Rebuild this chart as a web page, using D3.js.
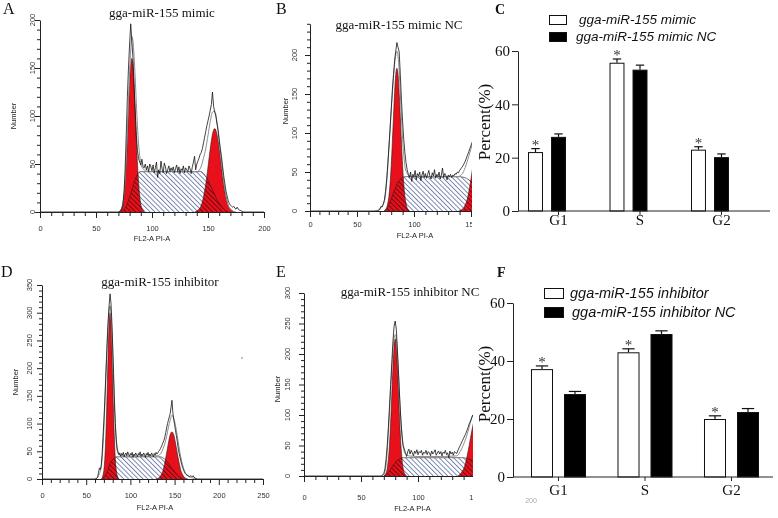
<!DOCTYPE html>
<html><head><meta charset="utf-8">
<script src="https://cdn.jsdelivr.net/npm/d3@7"></script>
<style>body{margin:0;background:#fff} svg{display:block}</style>
</head><body>
<svg id="c" width="778" height="518"></svg>
<script>
// ---------- Histogram data (x = FL2-A PI-A channel, y = Number) ----------
const histA_data = [[0,0],[70,0],[72,1],[73,3],[74,8],[75,20],[76,45],[77,80],[78,120],[79,150],[80,175],[81,196],[82,178],[83,160],[84,130],[85,105],[86,80],[87,64],[88,56],[89,52],[90,49],[91,55],[92,47],[93,46],[94,50],[95,44],[96,48],[97,42],[98,50],[99,47],[100,43],[101,49],[102,41],[103,46],[104,52],[105,36],[106,44],[107,40],[108,53],[109,45],[110,41],[111,51],[112,47],[113,40],[114,44],[115,48],[116,42],[117,46],[118,43],[119,47],[120,41],[121,45],[122,49],[123,42],[124,47],[125,40],[126,45],[127,43],[128,48],[129,41],[130,46],[131,44],[132,42],[133,48],[134,45],[135,40],[136,47],[137,52],[138,58],[139,44],[140,50],[141,53],[142,56],[143,60],[144,62],[145,66],[146,72],[147,78],[148,84],[149,90],[150,95],[151,100],[152,106],[153,112],[154,125],[155,110],[156,104],[157,100],[158,92],[159,85],[160,75],[161,66],[162,58],[163,48],[164,38],[165,30],[166,22],[167,17],[168,12],[169,9],[170,7],[171,6],[172,5],[173,6],[174,4],[175,3],[176,5],[177,3],[178,2],[180,1],[182,0],[200,0]];
const histA_model = [[70,0],[72,2],[74,9],[76,33],[78,84],[80,146],[81,169],[82,183],[83,178],[84,162],[85,140],[86,114],[87,90],[88,71],[89,59],[90,50],[92,45],[95,43],[100,42],[140,42],[143,45],[146,56],[148,66],[150,80],[152,94],[154,104],[156,105],[158,94],[160,75],[162,53],[164,32],[166,17],[168,7],[170,3],[172,1],[175,0]];
const histA_g1 = [[71,0],[72,2],[73,4],[74,8],[75,17],[76,31],[77,51],[78,77],[79,106],[80,133],[81,153],[82,160],[83,153],[84,133],[85,106],[86,77],[87,51],[88,31],[89,17],[90,8],[91,4],[92,2],[93,0]];
const histA_s = [[73,0],[75,2],[77,6],[79,12],[81,19],[83,27],[85,34],[87,39],[89,42],[144,42],[146,40],[148,37],[150,33],[152,28],[154,23],[156,18],[158,13],[160,9],[162,6],[164,3],[166,1],[168,0]];
const histA_g2 = [[138,0],[140,1],[142,3],[144,7],[146,16],[148,29],[150,47],[152,66],[154,81],[156,87],[158,81],[160,66],[162,47],[164,29],[166,16],[168,7],[170,3],[172,1],[174,0]];

const histB_data = [[0,0],[68,0],[70,2],[71,6],[72,5],[73,9],[74,14],[75,25],[76,40],[77,60],[78,82],[79,105],[80,130],[81,155],[82,175],[83,193],[84,205],[85,216],[86,210],[87,204],[88,175],[89,142],[90,115],[91,92],[92,75],[93,62],[94,53],[95,47],[96,43],[97,50],[98,38],[99,47],[100,44],[101,52],[102,40],[103,48],[104,45],[105,50],[106,39],[107,46],[108,51],[109,43],[110,48],[111,42],[112,47],[113,52],[114,44],[115,41],[116,49],[117,45],[118,53],[119,42],[120,47],[121,44],[122,50],[123,41],[124,46],[125,55],[126,43],[127,48],[128,45],[129,40],[130,46],[131,44],[132,47],[133,43],[134,46],[135,45],[136,48],[137,47],[138,50],[139,49],[140,52],[141,54],[142,56],[143,58],[144,61],[145,64],[146,68],[147,72],[148,76],[149,80],[150,84],[152,92]];
const histB_model = [[66,0],[70,3],[74,12],[76,36],[78,80],[80,128],[82,170],[83,188],[84,200],[85,205],[86,198],[87,180],[88,150],[89,120],[90,92],[91,72],[92,58],[94,48],[96,45],[100,44],[120,44],[138,44],[142,47],[145,56],[148,70],[150,80],[152,90]];
const histB_g1 = [[74,0],[75,2],[76,4],[77,10],[78,19],[79,35],[80,58],[81,88],[82,121],[83,152],[84,175],[85,183],[86,175],[87,152],[88,121],[89,88],[90,58],[91,35],[92,19],[93,10],[94,4],[95,2],[96,0]];
const histB_s = [[74,0],[76,3],[78,8],[80,15],[82,23],[84,31],[86,37],[88,41],[90,43],[92,44],[140,44],[144,43],[146,42],[148,40],[150,38],[152,35]];
const histB_g2 = [[139,0],[141,1],[143,3],[145,8],[147,17],[149,32],[151,51],[153,72],[155,89],[157,95],[159,89]];

const histD_data = [[0,0],[60,0],[62,1],[63,4],[64,12],[65,20],[66,17],[67,24],[68,45],[69,75],[70,105],[71,140],[72,180],[73,220],[74,258],[75,290],[76,315],[77,334],[78,318],[79,285],[80,240],[81,190],[82,140],[83,100],[84,72],[85,56],[86,49],[87,44],[88,47],[89,41],[90,46],[91,43],[92,48],[93,40],[94,45],[95,47],[96,42],[97,49],[98,44],[99,41],[100,46],[101,43],[102,48],[103,39],[104,45],[105,42],[106,47],[107,44],[108,40],[109,46],[110,43],[111,49],[112,41],[113,45],[114,42],[115,47],[116,44],[117,39],[118,46],[119,43],[120,48],[121,41],[122,45],[123,42],[124,47],[125,44],[126,40],[127,46],[128,43],[129,48],[130,45],[131,47],[132,50],[133,52],[134,55],[135,58],[136,62],[137,66],[138,70],[139,76],[140,84],[141,92],[142,100],[143,106],[144,112],[145,118],[146,130],[147,142],[148,120],[149,108],[150,98],[151,88],[152,78],[153,68],[154,56],[155,47],[156,40],[157,33],[158,26],[159,21],[160,17],[161,13],[162,10],[163,8],[164,7],[165,6],[166,5],[167,4],[168,6],[169,5],[170,4],[171,6],[172,3],[174,1],[176,0],[250,0]];
const histD_model = [[60,0],[63,3],[65,10],[67,22],[69,60],[71,130],[73,215],[75,285],[76,305],[77,312],[78,300],[79,270],[80,225],[81,175],[82,128],[83,92],[84,66],[85,52],[87,44],[90,42],[100,41],[120,41],[130,42],[134,45],[137,55],[140,70],[142,85],[144,100],[146,112],[147,115],[148,113],[150,104],[152,88],[154,68],[156,48],[158,32],[160,20],[162,12],[165,6],[170,2],[175,0]];
const histD_g1 = [[67,0],[68,2],[69,7],[70,16],[71,35],[72,68],[73,116],[74,176],[75,236],[76,283],[77,300],[78,283],[79,236],[80,176],[81,116],[82,68],[83,35],[84,16],[85,7],[86,2],[87,0]];
const histD_s = [[68,0],[70,3],[72,8],[74,15],[76,23],[78,30],[80,35],[82,38],[84,40],[86,40],[134,40],[136,39],[138,37],[140,34],[142,30],[144,26],[146,21],[148,17],[150,13],[152,9],[154,6],[156,3],[158,1],[160,0]];
const histD_g2 = [[129,0],[131,1],[133,3],[135,8],[137,16],[139,30],[141,47],[143,65],[145,80],[147,85],[149,80],[151,65],[153,47],[155,30],[157,16],[159,8],[161,3],[163,1],[165,0]];

const histE_data = [[0,0],[68,0],[70,4],[71,12],[72,28],[73,50],[74,80],[75,115],[76,150],[77,185],[78,220],[79,245],[80,254],[81,240],[82,205],[83,165],[84,125],[85,92],[86,66],[87,50],[88,44],[89,38],[90,32],[91,40],[92,44],[93,36],[94,42],[95,38],[96,33],[97,41],[98,37],[99,43],[100,35],[101,40],[102,38],[103,42],[104,34],[105,39],[106,37],[107,42],[108,35],[109,40],[110,38],[111,33],[112,41],[113,36],[114,39],[115,43],[116,34],[117,38],[118,41],[119,36],[120,40],[121,33],[122,39],[123,37],[124,42],[125,35],[126,38],[127,30],[128,41],[129,36],[130,39],[131,34],[132,40],[133,38],[134,37],[135,42],[136,46],[137,50],[138,54],[139,58],[140,62],[141,66],[142,70],[143,75],[144,80],[145,86],[146,90],[148,100]];
const histE_model = [[68,0],[70,3],[72,18],[74,70],[76,140],[77,175],[78,205],[79,225],[80,232],[81,225],[82,200],[83,165],[84,125],[85,90],[86,65],[87,48],[89,36],[92,33],[100,32],[120,32],[134,33],[137,40],[140,52],[142,62],[144,74],[146,88],[148,100]];
const histE_g1 = [[70,0],[71,2],[72,5],[73,12],[74,27],[75,51],[76,87],[77,132],[78,177],[79,212],[80,225],[81,212],[82,177],[83,132],[84,87],[85,51],[86,27],[87,12],[88,5],[89,2],[90,0]];
const histE_s = [[70,0],[72,2],[74,6],[76,11],[78,17],[80,22],[82,26],[84,28],[86,30],[140,30],[142,29],[144,28],[146,27],[148,25]];
const histE_g2 = [[135,0],[137,3],[139,8],[141,17],[143,32],[145,51],[147,72],[149,89],[151,95],[153,89]];

// ---------- Bar chart data ----------
const phases = ["G1", "S", "G2"];
const mimicVals = [22.1, 55.6, 23.0];
const mimicErr = [1.3, 1.4, 1.1];
const mimicNCVals = [27.8, 53.0, 20.2];
const mimicNCErr = [1.1, 1.7, 1.2];
const inhibVals = [37.2, 43.0, 20.0];
const inhibErr = [1.1, 1.2, 1.1];
const inhibNCVals = [28.6, 49.3, 22.4];
const inhibNCErr = [0.9, 1.1, 1.2];
const percentTicks = [0, 20, 40, 60];

const SANS = "'Liberation Sans', Arial, sans-serif";
const SERIF = "'Liberation Serif', 'Times New Roman', serif";

const svg = d3.select("#c");
const defs = svg.append("defs");
const pat = defs.append("pattern").attr("id", "hatch").attr("patternUnits", "userSpaceOnUse")
  .attr("width", 3.4).attr("height", 3.4).attr("patternTransform", "rotate(-45)");
pat.append("rect").attr("width", 3.4).attr("height", 3.4).attr("fill", "#fff");
pat.append("line").attr("x1", 0.5).attr("y1", 0).attr("x2", 0.5).attr("y2", 3.4)
  .attr("stroke", "#6472a2").attr("stroke-width", 0.85);

function txt(g, x, y, s, size, family, opts = {}) {
  const t = g.append("text").attr("x", x).attr("y", y).text(s)
    .attr("font-size", size).attr("font-family", family).attr("fill", opts.fill || "#111");
  if (opts.anchor) t.attr("text-anchor", opts.anchor);
  if (opts.weight) t.attr("font-weight", opts.weight);
  if (opts.style) t.attr("font-style", opts.style);
  if (opts.rotate) t.attr("transform", `rotate(-90 ${x} ${y})`);
  if (opts.dy) t.attr("dy", opts.dy);
  return t;
}

function histogram(o) {
  const g = svg.append("g");
  if (o.clipX) {
    const id = "clip" + o.id;
    defs.append("clipPath").attr("id", id).append("rect")
      .attr("x", 0).attr("y", 0).attr("width", o.clipX).attr("height", 518);
    g.attr("clip-path", `url(#${id})`);
  }
  const x = o.x, y = o.y;
  const area = d3.area().x(d => x(d[0])).y0(y(0)).y1(d => y(d[1])).curve(d3.curveMonotoneX);
  const smooth = d3.line().x(d => x(d[0])).y(d => y(d[1])).curve(d3.curveMonotoneX);
  const jag = d3.line().x(d => x(d[0])).y(d => y(d[1]));

  g.append("path").datum(o.s).attr("d", area).attr("fill", "url(#hatch)");
  [o.g1, o.g2].forEach(p => g.append("path").datum(p).attr("d", area)
    .attr("fill", "#e8101a").style("mix-blend-mode", "multiply"));
  [o.s, o.g1, o.g2].forEach(p => g.append("path").datum(p).attr("d", smooth)
    .attr("fill", "none").attr("stroke", "#2a1a1a").attr("stroke-width", 0.6));
  g.append("path").datum(o.model).attr("d", smooth).attr("fill", "none")
    .attr("stroke", "#8c8c8c").attr("stroke-width", 1);
  g.append("path").datum(o.data).attr("d", jag).attr("fill", "none")
    .attr("stroke", "#141414").attr("stroke-width", 0.8);

  // x axis
  const xa = g.append("g").attr("transform", `translate(0,${y(0)})`)
    .call(d3.axisBottom(x).tickValues(d3.range(0, o.xMax + 1, 10)).tickSize(4).tickSizeOuter(0)
      .tickFormat(v => v % 50 === 0 ? v : ""));
  xa.select(".domain").attr("stroke", "#222");
  xa.selectAll(".tick line").attr("stroke", "#222").attr("y2", d => d % 50 === 0 ? 6 : 4);
  xa.selectAll(".tick text").attr("y", o.xLabDy).attr("dy", 0)
    .attr("font-size", 7.5).attr("font-family", SANS).attr("fill", "#333");

  // y axis
  const ya = g.append("g").attr("transform", `translate(${x.range()[0]},0)`)
    .call(d3.axisLeft(y).tickValues(d3.range(0, o.yMax + 1, 10)).tickSize(3).tickSizeOuter(0)
      .tickFormat(""));
  ya.select(".domain").attr("stroke", "#222");
  ya.selectAll(".tick line").attr("stroke", "#222").attr("x2", d => d % 50 === 0 ? -5 : -3);
  o.yLabels.forEach(v => txt(g, o.yLabX, y(v), v, 7.5, SANS, { anchor: "middle", rotate: true, fill: "#333", dy: "0.35em" }));

  txt(g, o.numX, o.numY, "Number", 7.5, SANS, { anchor: "middle", rotate: true, fill: "#222", dy: "0.35em" });
  txt(g, o.flX, o.flY, "FL2-A PI-A", 7.5, SANS, { anchor: "middle", fill: "#222" });
  txt(svg, o.titleX, o.titleY, o.title, 13, SERIF, { anchor: "middle" });
  txt(svg, o.letterX, o.letterY, o.letter, 16, SERIF, {});
}

histogram({
  id: "A", x: d3.scaleLinear().domain([0, 200]).range([40, 264]),
  y: d3.scaleLinear().domain([0, 200]).range([212, 20]),
  xMax: 200, yMax: 200, yLabels: [0, 50, 100, 150, 200], xLabDy: 19, yLabX: 32.5,
  data: histA_data, model: histA_model, g1: histA_g1, s: histA_s, g2: histA_g2,
  numX: 13.5, numY: 116, flX: 152, flY: 241, title: "gga-miR-155 mimic", titleX: 162, titleY: 17,
  letter: "A", letterX: 3, letterY: 14
});
histogram({
  id: "B", clipX: 472, x: d3.scaleLinear().domain([0, 50, 100, 150]).range([310, 357, 414, 471]),
  y: d3.scaleLinear().domain([0, 240]).range([211, 23.8]),
  xMax: 150, yMax: 240, yLabels: [0, 50, 100, 150, 200], xLabDy: 16, yLabX: 294,
  data: histB_data, model: histB_model, g1: histB_g1, s: histB_s, g2: histB_g2,
  numX: 285.5, numY: 111, flX: 415, flY: 238, title: "gga-miR-155 mimic NC", titleX: 399, titleY: 29,
  letter: "B", letterX: 276, letterY: 14
});
histogram({
  id: "D", x: d3.scaleLinear().domain([0, 250]).range([42, 263]),
  y: d3.scaleLinear().domain([0, 350]).range([479, 285]),
  xMax: 250, yMax: 350, yLabels: [0, 50, 100, 150, 200, 250, 300, 350], xLabDy: 19, yLabX: 29.5,
  data: histD_data, model: histD_model, g1: histD_g1, s: histD_s, g2: histD_g2,
  numX: 15, numY: 382, flX: 155, flY: 510, title: "gga-miR-155 inhibitor", titleX: 160, titleY: 285.5,
  letter: "D", letterX: 1, letterY: 277
});
histogram({
  id: "E", clipX: 473, x: d3.scaleLinear().domain([0, 150]).range([304, 475]),
  y: d3.scaleLinear().domain([0, 300]).range([476, 293]),
  xMax: 150, yMax: 300, yLabels: [0, 50, 100, 150, 200, 250, 300], xLabDy: 24, yLabX: 287,
  data: histE_data, model: histE_model, g1: histE_g1, s: histE_s, g2: histE_g2,
  numX: 277.5, numY: 389, flX: 412.5, flY: 511, title: "gga-miR-155 inhibitor NC", titleX: 410, titleY: 295.5,
  letter: "E", letterX: 276, letterY: 277
});

function bars(o) {
  const g = svg.append("g");
  const x0 = d3.scaleBand().domain(phases).range(o.xr).paddingInner(o.pi).paddingOuter(o.po);
  const x1 = d3.scaleBand().domain(["a", "b"]).range([0, x0.bandwidth()]).paddingInner(o.pi2);
  const y = d3.scaleLinear().domain([0, 60]).range(o.yr);
  const bw = x1.bandwidth();
  const series = [
    { key: "a", vals: o.aVals, err: o.aErr, fill: "#fff" },
    { key: "b", vals: o.bVals, err: o.bErr, fill: "#000" }
  ];
  series.forEach(s => {
    phases.forEach((c, i) => {
      const bx = x0(c) + x1(s.key);
      const cx = bx + bw / 2;
      g.append("rect").attr("x", bx + 0.5).attr("y", y(s.vals[i]) + 0.5)
        .attr("width", bw - 1).attr("height", y(0) - y(s.vals[i]) - 0.5)
        .attr("fill", s.fill).attr("stroke", "#111").attr("stroke-width", 1);
      g.append("line").attr("x1", cx).attr("x2", cx).attr("y1", y(s.vals[i])).attr("y2", y(s.vals[i] + s.err[i]))
        .attr("stroke", "#111").attr("stroke-width", 1.2);
      g.append("line").attr("x1", cx - bw * 0.28).attr("x2", cx + bw * 0.28)
        .attr("y1", y(s.vals[i] + s.err[i])).attr("y2", y(s.vals[i] + s.err[i]))
        .attr("stroke", "#111").attr("stroke-width", 1.2);
      if (s.key === "a") {
        txt(g, cx, y(s.vals[i] + s.err[i]) - o.starGap, "*", 15, SERIF, { anchor: "middle", fill: "#333" });
      }
    });
  });
  // y axis
  const ya = g.append("g").attr("transform", `translate(${o.axX},0)`)
    .call(d3.axisLeft(y).tickValues(percentTicks).tickSize(6).tickSizeOuter(0).tickPadding(2));
  ya.select(".domain").attr("stroke", "#222");
  ya.selectAll(".tick line").attr("stroke", "#222");
  ya.selectAll(".tick text").attr("font-size", 15).attr("font-family", SERIF).attr("fill", "#111");
  // x axis
  g.append("line").attr("x1", o.axX).attr("x2", o.xEnd).attr("y1", y(0)).attr("y2", y(0)).attr("stroke", "#222");
  phases.forEach(c => {
    const lx = o.labelAtB ? x0(c) + x1("b") + bw / 2 : x0(c) + x0.bandwidth() / 2;
    g.append("line").attr("x1", lx).attr("x2", lx).attr("y1", y(0)).attr("y2", y(0) + 4).attr("stroke", "#222");
    txt(g, lx, y(0) + o.catDy, c, 15, SERIF, { anchor: "middle" });
  });
  txt(g, o.ylabX, o.ylabY, "Percent(%)", 17, SERIF, { anchor: "middle", rotate: true, dy: "0.35em" });
  // legend
  g.append("rect").attr("x", o.legX + 0.5).attr("y", o.legY1 + 0.5).attr("width", o.legW).attr("height", o.legH)
    .attr("fill", "#fff").attr("stroke", "#111");
  g.append("rect").attr("x", o.legX + 0.5).attr("y", o.legY2 + 0.5).attr("width", o.legW).attr("height", o.legH)
    .attr("fill", "#000").attr("stroke", "#111");
  txt(g, o.legT1, o.legY1 + o.legH / 2, o.nameA, o.legFont, SANS, { style: "italic", dy: "0.35em" });
  txt(g, o.legT2, o.legY2 + o.legH / 2, o.nameB, o.legFont, SANS, { style: "italic", dy: "0.35em" });
  txt(svg, o.letterX, o.letterY, o.letter, 14, SERIF, { weight: "bold" });
}

bars({
  xr: [518, 739], pi: 0.534, po: 0.123, pi2: 0.35, yr: [211, 51], axX: 518, xEnd: 770,
  aVals: mimicVals, aErr: mimicErr, bVals: mimicNCVals, bErr: mimicNCErr, starGap: -1,
  labelAtB: true, catDy: 14, ylabX: 484, ylabY: 122,
  legX: 549, legY1: 15, legY2: 32, legW: 17, legH: 9, legT1: 579, legT2: 576, legFont: 13.5,
  nameA: "gga-miR-155 mimic", nameB: "gga-miR-155 mimic NC", letter: "C", letterX: 495, letterY: 14
});
bars({
  xr: [513, 777], pi: 0.364, po: 0.208, pi2: 0.333, yr: [477, 303], axX: 513, xEnd: 773,
  aVals: inhibVals, aErr: inhibErr, bVals: inhibNCVals, bErr: inhibNCErr, starGap: -1,
  labelAtB: false, catDy: 18, ylabX: 484, ylabY: 384,
  legX: 544, legY1: 288, legY2: 307, legW: 19, legH: 10, legT1: 570, legT2: 572, legFont: 14.5,
  nameA: "gga-miR-155 inhibitor", nameB: "gga-miR-155 inhibitor NC", letter: "F", letterX: 497, letterY: 277
});

// small stray marks seen in the figure
txt(svg, 531, 503, "200", 7, SANS, { anchor: "middle", fill: "#aaa" });
svg.append("circle").attr("cx", 242).attr("cy", 358).attr("r", 0.7).attr("fill", "#555");
</script>
</body></html>
